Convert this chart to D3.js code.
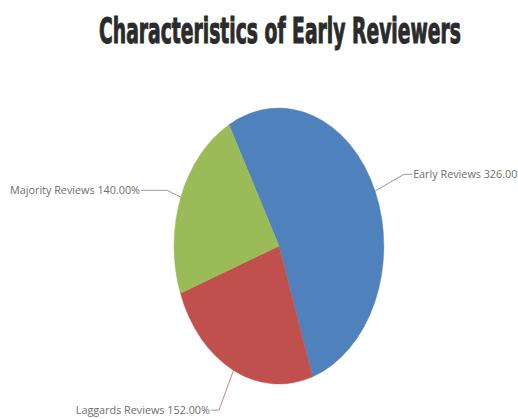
<!DOCTYPE html>
<html>
<head>
<meta charset="utf-8">
<script src="https://cdn.jsdelivr.net/npm/d3@7"></script>
<style>
  html, body { margin: 0; padding: 0; background: #fff; overflow: hidden; }
  svg { display: block; }
</style>
</head>
<body>
<svg id="chart" width="518" height="419"></svg>
<script>
// Review groups and their counts
const categories = ["Early Reviews", "Laggards Reviews", "Majority Reviews"];
const values = [326, 152, 140];
const colors = ["#4f81bd", "#c0504d", "#9bbb59"];
const title = "Characteristics of Early Reviewers";

const svg = d3.select("#chart");
const W = 518, H = 419;

// Pie geometry: drawn on a unit circle then stretched into an ellipse
const cx = 279, cy = 246, rx = 105, ry = 138;
const startDeg = -28.5;

// Leader line layout per slice: elbow radius (relative) and horizontal run
const elbowR = [1.30, 1.32, 1.14];
const runLen = [8, -8, -26];
const lineColors = ["#8a96a3", "#b98a8c", "#9aa0a0"];

// Title: condensed heavy face, squeezed horizontally to the target width
const titleWidth = 362;
const titleG = svg.append("g");
const titleText = titleG.append("text")
  .attr("x", 0)
  .attr("y", 0)
  .attr("text-anchor", "middle")
  .attr("font-family", "'Liberation Sans Narrow', 'DejaVu Sans Condensed', sans-serif")
  .attr("font-weight", "bold")
  .attr("font-size", 35)
  .attr("fill", "#2b2b2b")
  .attr("stroke", "#2b2b2b")
  .attr("stroke-width", 1)
  .text(title);
const natural = titleText.node().getComputedTextLength();
titleG.attr("transform", `translate(280,43) scale(${titleWidth / natural},1)`);

const data = categories.map((c, i) => ({ name: c, value: values[i], color: colors[i], i }));

const pie = d3.pie()
  .sort(null)
  .value(d => d.value)
  .startAngle(startDeg * Math.PI / 180)
  .endAngle(startDeg * Math.PI / 180 + 2 * Math.PI);

const arcs = pie(data);
const arc = d3.arc().innerRadius(0).outerRadius(1);

const g = svg.append("g")
  .attr("transform", `translate(${cx},${cy}) scale(${rx},${ry})`);

g.selectAll("path")
  .data(arcs)
  .join("path")
  .attr("d", arc)
  .attr("fill", d => d.data.color)
  .attr("stroke", d => d.data.color)
  .attr("stroke-width", 0.004);

// Map an angle (d3 convention, 0 at top, clockwise) and radius to page coords
function pt(a, r) {
  return [cx + rx * r * Math.sin(a), cy - ry * r * Math.cos(a)];
}

const labels = svg.append("g");
arcs.forEach(d => {
  const i = d.data.i;
  const mid = (d.startAngle + d.endAngle) / 2;
  const p0 = pt(mid, 1.0);
  const p1 = pt(mid, elbowR[i]);
  const p2 = [p1[0] + runLen[i], p1[1]];
  labels.append("polyline")
    .attr("points", [p0, p1, p2].map(p => p.join(",")).join(" "))
    .attr("fill", "none")
    .attr("stroke", lineColors[i])
    .attr("stroke-width", 1);
  const right = runLen[i] > 0;
  labels.append("text")
    .attr("x", p2[0] + (right ? 1 : -1))
    .attr("y", p2[1] + 3.5)
    .attr("text-anchor", right ? "start" : "end")
    .attr("font-family", "'Open Sans', sans-serif")
    .attr("font-size", 10.8)
    .attr("fill", "#6e6e6e")
    .text(`${d.data.name} ${d.data.value.toFixed(2)}%`);
});
</script>
</body>
</html>
